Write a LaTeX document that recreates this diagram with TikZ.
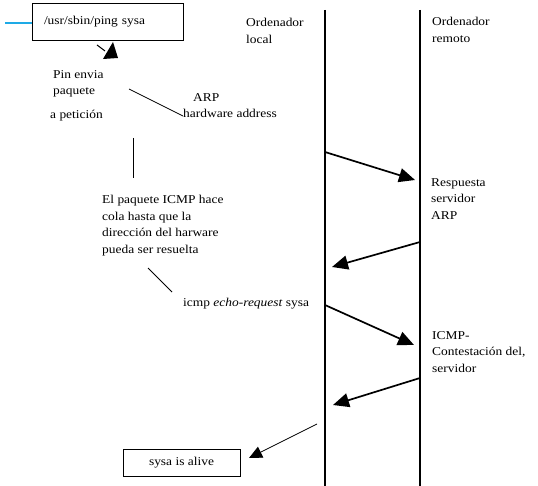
\documentclass[tikz,border=0pt]{standalone}
\usepackage{fontspec}
\setmainfont{Liberation Serif}[FakeStretch=1.12]
\usetikzlibrary{arrows.meta}
\definecolor{cyanline}{RGB}{30,170,230}
\tikzset{
  lbl/.style={anchor=north west, inner sep=0pt, align=left, font=\fontsize{12}{16.7}\selectfont},
  boxed/.style={draw, line width=0.8pt, inner sep=0pt, font=\fontsize{12}{13}\selectfont},
  lifeline/.style={line width=1.8pt},
  msg/.style={line width=1.7pt, -{Triangle[length=16pt,width=14pt]}},
  thinmsg/.style={line width=0.7pt, -{Triangle[length=13pt,width=12pt]}},
  plain/.style={line width=0.8pt}
}
\begin{document}
\begin{tikzpicture}[x=1pt,y=-1pt]
\useasboundingbox (0,0) rectangle (538,486);
% command box
\node[boxed, minimum height=37pt, text width=127pt, inner xsep=12pt, align=left] (ping) at (107.5,21.5) {/usr/sbin/ping sysa};
\coordinate (cy) at (5,23);
\draw[cyanline, line width=2pt] (cy) -- (ping.west |- cy);
% small arrow under the box
\coordinate (sa1) at (97,45);
\coordinate (sa2) at (105,51);
\draw[line width=1pt] (sa1) -- (sa2);
\fill (103,59) -- (118,58) -- (113,42) -- cycle;
% lifelines
\coordinate (lt) at (325,10);
\coordinate (lb) at (325,486);
\coordinate (rt) at (420,10);
\coordinate (rb) at (420,486);
\draw[lifeline] (lt) -- (lb);
\draw[lifeline] (rt) -- (rb);
\node[lbl] (loc) at (246,18) {Ordenador\\local};
\node[lbl] (rem) at (432,17) {Ordenador\\remoto};
% left texts
\node[lbl] (pin) at (53,70) {Pin envia\\paquete};
\node[lbl] (pet) at (50,110) {a petición};
\node[lbl] (arp) at (183,93) {\hspace{10pt}ARP\\hardware address};
\coordinate (p1) at (129,89);
\coordinate (p2) at (183,116);
\draw[plain] (p1) -- (p2);
\coordinate (v1) at (133,138);
\coordinate (v2) at (133,178);
\draw[plain] (v1) -- (v2);
\node[lbl] (cola) at (102,195) {El paquete ICMP hace\\cola hasta que la\\dirección del harware\\pueda ser resuelta};
\coordinate (d1) at (148,268);
\coordinate (d2) at (172,292);
\draw[plain] (d1) -- (d2);
\node[lbl] (icmp) at (183,298) {icmp \textit{echo-request} sysa};
% right texts
\node[lbl] (resp) at (431,178) {Respuesta\\servidor\\ARP};
\node[lbl] (cont) at (432,331) {ICMP-\\Contestación del,\\servidor};
% messages
\coordinate (m1s) at (325,152);
\coordinate (m1e) at (415,180);
\draw[msg] (m1s) -- (m1e);
\coordinate (m2s) at (420,242);
\coordinate (m2e) at (332,267);
\draw[msg] (m2s) -- (m2e);
\coordinate (m3s) at (325,305);
\coordinate (m3e) at (414,345);
\draw[msg] (m3s) -- (m3e);
\coordinate (m4s) at (420,378);
\coordinate (m4e) at (333,405);
\draw[msg] (m4s) -- (m4e);
% result
\node[boxed, minimum width=117pt, minimum height=27pt] (alive) at (181.5,462.5) {sysa is alive};
\coordinate (t1) at (317,424);
\coordinate (t2) at (249,458);
\draw[thinmsg] (t1) -- (t2);
\end{tikzpicture}
\end{document}
